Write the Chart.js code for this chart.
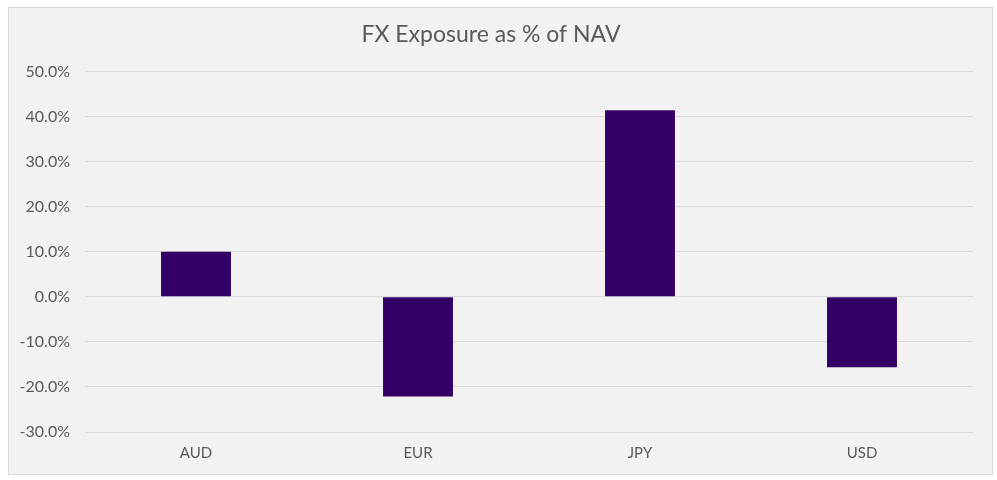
<!DOCTYPE html>
<html>
<head>
<meta charset="utf-8">
<script src="https://cdn.jsdelivr.net/npm/chart.js@4"></script>
<style>
  body { margin: 0; background: #ffffff; }
  #caja {
    position: absolute; left: 8px; top: 7px;
    width: 983px; height: 466px;
    border: 1px solid #d9d9d9; background: #f2f2f2;
  }
</style>
</head>
<body>
<div id="caja"><canvas id="grafico" width="983" height="466"></canvas></div>
<script>
const monedas = ['AUD', 'EUR', 'JPY', 'USD'];
const exposicion = [10.0, -22.1, 41.4, -15.6];
const ticksY = [-30, -20, -10, 0, 10, 20, 30, 40, 50];

const fuente = "Lato, 'Open Sans', sans-serif";
const grafico = document.getElementById('grafico').getContext('2d');

new Chart(grafico, {
    type: 'bar',
    data: {
        labels: monedas,
        datasets: [{
            data: exposicion,
            backgroundColor: '#330066',
            borderWidth: 0,
            categoryPercentage: 1.0,
            barPercentage: 0.315
        }]
    },
    options: {
        responsive: false,
        animation: false,
        layout: { padding: { left: 0, right: 19, top: 0, bottom: 0 } },
        plugins: {
            legend: { display: false },
            tooltip: { enabled: false },
            title: {
                display: true,
                text: 'FX Exposure as % of NAV',
                color: '#595959',
                font: { family: fuente, size: 23, weight: 'normal' },
                padding: { top: 13, bottom: 23 }
            }
        },
        scales: {
            x: {
                grid: { display: false },
                border: { display: false },
                ticks: {
                    color: '#595959',
                    font: { family: fuente, size: 15 },
                    padding: 4
                },
                afterFit: function (escala) { escala.height = 42; }
            },
            y: {
                min: -30,
                max: 50,
                afterBuildTicks: function (escala) {
                    escala.ticks = ticksY.map(v => ({ value: v }));
                },
                grid: { color: '#d9d9d9', lineWidth: 1, drawTicks: false },
                border: { display: false },
                ticks: {
                    color: '#595959',
                    font: { family: fuente, size: 16 },
                    padding: 15,
                    callback: function (v) { return v.toFixed(1) + '%'; }
                },
                afterFit: function (escala) { escala.width = 76; }
            }
        }
    }
});
</script>
</body>
</html>
